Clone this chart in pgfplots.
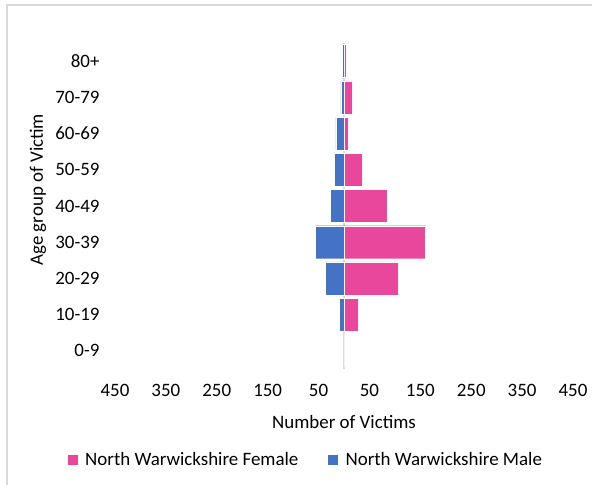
\documentclass[border=0pt]{standalone}
\usepackage{pgfplots}
\pgfplotsset{compat=1.18}
\usepackage{fontspec}
\setmainfont{Carlito}

\definecolor{female}{RGB}{233,71,155}
\definecolor{male}{RGB}{68,114,196}
\definecolor{frame}{RGB}{217,217,217}

\begin{document}
\begin{tikzpicture}[x=1bp,y=1bp]
\path[use as bounding box] (-115,-116) rectangle (477,369);
\draw[frame, line width=2bp] (-108,-130) -- (-108,364) -- (490,364);
\begin{axis}[
    at={(0,0)}, anchor=south west,
    scale only axis,
    width=458bp, height=326bp,
    xmin=-450, xmax=450,
    ymin=-0.5, ymax=8.5,
    xbar, bar width=33bp,
    axis line style={draw=none},
    major tick length=0pt,
    font=\fontsize{19}{23}\selectfont,
    xtick={-450,-350,-250,-150,-50,50,150,250,350,450},
    xticklabels={450,350,250,150,50,50,150,250,350,450},
    xticklabel style={yshift=-12bp},
    ytick={0,1,2,3,4,5,6,7,8},
    yticklabels={0-9,10-19,20-29,30-39,40-49,50-59,60-69,70-79,80+},
    yticklabel style={xshift=-12bp},
    extra x ticks={0},
    extra x tick labels={},
    extra x tick style={grid=major, major grid style={frame, line width=1.5bp}},
    xlabel={Number of Victims},
    xlabel style={at={(axis description cs:0.5,-0.162)}, anchor=center},
    ylabel={Age group of Victim},
    ylabel style={at={(axis description cs:-0.168,0.55)}, anchor=center},
    legend columns=2,
    legend style={draw=none, fill=none, at={(axis description cs:0.417,-0.279)}, anchor=center,
        /tikz/every even column/.append style={column sep=28bp}},
    legend image code/.code={\fill[#1, draw=none] (0bp,-5bp) rectangle (10bp,5bp); \path (15bp,0bp);},
    legend cell align=left,
]
\addplot[fill=female, draw=white, line width=0.4bp, bar shift=0pt] coordinates {
    (0,0) (28,1) (107,2) (160,3) (85,4) (35,5) (9,6) (16,7) (4,8)
};
\addlegendentry{North Warwickshire Female}
\addplot[fill=male, draw=white, line width=0.4bp, bar shift=0pt] coordinates {
    (0,0) (-9,1) (-37,2) (-56,3) (-27,4) (-19,5) (-16,6) (-6,7) (-3,8)
};
\addlegendentry{North Warwickshire Male}
\end{axis}
\end{tikzpicture}
\end{document}
